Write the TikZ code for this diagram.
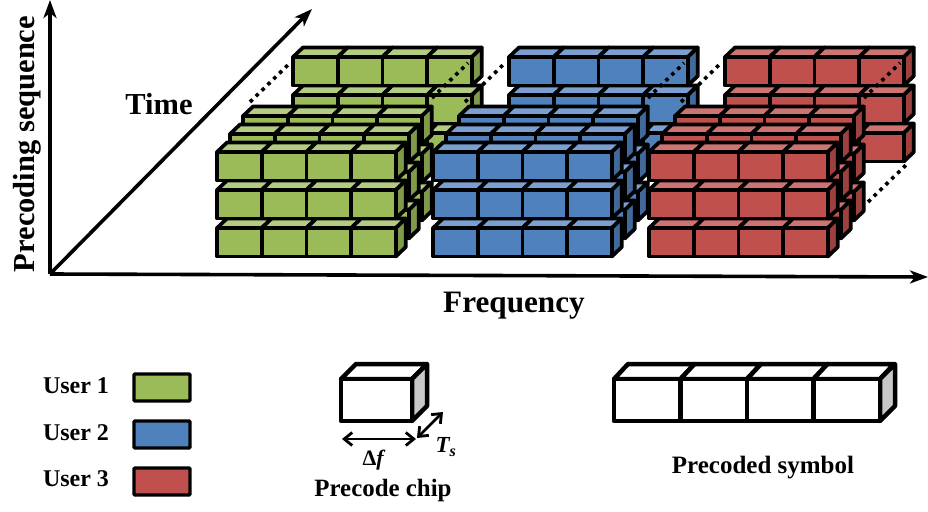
\documentclass[tikz,border=0pt]{standalone}
\usepackage{fontspec}
\setmainfont{Liberation Serif}
\usetikzlibrary{arrows.meta}
\definecolor{gf}{HTML}{9BBB59}\definecolor{gt}{HTML}{B3CC82}\definecolor{gs}{HTML}{7F9A48}
\definecolor{bf}{HTML}{4F81BD}\definecolor{bt}{HTML}{7A9FD0}\definecolor{bs}{HTML}{41699A}
\definecolor{rf}{HTML}{C0504D}\definecolor{rt}{HTML}{CD7371}\definecolor{rs}{HTML}{9D413F}
\definecolor{chipside}{HTML}{C8C8C8}
\tikzset{
  cubeline/.style={draw=black,line width=3.7pt,line join=round},
  chipline/.style={draw=black,line width=4.5pt,line join=round},
  axisline/.style={draw=black,line width=3.6pt,-{Stealth[length=18pt,width=13pt,inset=5pt]}},
  dimline/.style={draw=black,line width=2.8pt,{Straight Barb[length=8pt,width=13pt,line width=2.8pt]}-{Straight Barb[length=8pt,width=13pt,line width=2.8pt]}},
  dots/.style={draw=black,line width=3.6pt,dash pattern=on 3.6pt off 4.6pt},
  boldlabel/.style={font=\bfseries\fontsize{#1}{#1}\selectfont,inner sep=0pt},
  legendbox/.style={draw=black,line width=3.4pt,rounded corners=1pt},
}
% one bar of four chips: x, y of the front face top-left, then three colours
\newcommand{\chipbar}[5]{%
  \begin{scope}[shift={(#1,#2)}]
    \foreach \i in {0,1,2,3}{
      \path[cubeline,fill=#4] (44.7*\i,0) -- ++(10,-9.5) -- ++(44.7,0) -- ++(-10,9.5) -- cycle;
    }
    \path[cubeline,fill=#5] (178.8,0) -- ++(10,-9.5) -- ++(0,28.5) -- ++(-10,9.5) -- cycle;
    \foreach \i in {0,1,2,3}{
      \path[cubeline,fill=#3] (44.7*\i,0) rectangle ++(44.7,28.5);
    }
  \end{scope}}
% three stacked bars
\newcommand{\chipstack}[5]{%
  \chipbar{#1}{#2+76}{#3}{#4}{#5}
  \chipbar{#1}{#2+38}{#3}{#4}{#5}
  \chipbar{#1}{#2}{#3}{#4}{#5}}
\newcommand{\userblock}[4]{%
  \begin{scope}[shift={(#1,0)}]
    \chipstack{243}{116}{#2}{#3}{#4}
    \chipstack{230}{134}{#2}{#3}{#4}
    \chipstack{217}{152}{#2}{#3}{#4}
  \end{scope}}
\begin{document}
\begin{tikzpicture}[x=1pt,y=-1pt]
\useasboundingbox (0,0) rectangle (928,511);
% back layers
\chipstack{293}{57}{gf}{gt}{gs}
\chipstack{509}{57}{bf}{bt}{bs}
\chipstack{725}{57}{rf}{rt}{rs}
% dotted guide lines
\coordinate (d1a) at (250,102); \coordinate (d1b) at (291,62);
\coordinate (d2a) at (432,98);  \coordinate (d2b) at (468,63);
\coordinate (d3a) at (465,102); \coordinate (d3b) at (505,63);
\coordinate (d4a) at (648,98);  \coordinate (d4b) at (684,63);
\coordinate (d5a) at (681,102); \coordinate (d5b) at (721,63);
\coordinate (d6a) at (864,98);  \coordinate (d6b) at (900,63);
\coordinate (d7a) at (868,202); \coordinate (d7b) at (906,165);
\foreach \n in {1,...,7}{ \draw[dots] (d\n a) -- (d\n b); }
% front layers
\userblock{0}{gf}{gt}{gs}
\userblock{216}{bf}{bt}{bs}
\userblock{432}{rf}{rt}{rs}
% axes
\coordinate (org) at (50,274);
\coordinate (yend) at (50,0);
\coordinate (xend) at (928,277);
\coordinate (tend) at (312,9);
\draw[axisline] (org) -- (yend);
\draw[axisline] (org) -- (xend);
\draw[axisline] (org) -- (tend);
\node[boldlabel=30.5,rotate=90] (ylab) at (27,144) {Precoding sequence};
\node[boldlabel=30.5] (tlab) at (159,104) {Time};
\node[boldlabel=31.2] (flab) at (514,306) {Frequency};
% legend
\node[boldlabel=24] (u1) at (76,386) {User 1};
\node[boldlabel=24] (u2) at (76,433) {User 2};
\node[boldlabel=24] (u3) at (76,479) {User 3};
\node[legendbox,fill=gf,minimum width=56pt,minimum height=27pt] (k1) at (162,387.5) {};
\node[legendbox,fill=bf,minimum width=56pt,minimum height=27pt] (k2) at (162,434.5) {};
\node[legendbox,fill=rf,minimum width=56pt,minimum height=27pt] (k3) at (162,481.5) {};
% precode chip
\path[chipline,fill=white] (341,379) -- ++(15,-15) -- ++(71,0) -- ++(-15,15) -- cycle;
\path[chipline,fill=chipside] (412,379) -- ++(15,-15) -- ++(0,42) -- ++(-15,15) -- cycle;
\path[chipline,fill=white] (341,379) rectangle (412,421);
\coordinate (fa) at (342,439); \coordinate (fb) at (416,439);
\coordinate (ta) at (417,438); \coordinate (tb) at (443,412);
\draw[dimline] (fa) -- (fb);
\draw[dimline] (ta) -- (tb);
\node[boldlabel=22] (df) at (374,460) {Δ\textit{f}};
\node[font=\bfseries\itshape\fontsize{23}{23}\selectfont,inner sep=0pt] (ts) at (446,447) {T\textsubscript{s}};
\node[boldlabel=24.9] (pc) at (383,491) {Precode chip};
% precoded symbol
\foreach \i in {0,1,2,3}{
  \path[chipline,fill=white] (614+66.5*\i,379) -- ++(14,-15) -- ++(66.5,0) -- ++(-14,15) -- cycle;
}
\path[chipline,fill=chipside] (880,379) -- ++(15,-15) -- ++(0,42) -- ++(-15,15) -- cycle;
\foreach \i in {0,1,2,3}{
  \path[chipline,fill=white] (614+66.5*\i,379) rectangle ++(66.5,42);
}
\node[boldlabel=25] (ps) at (763,468) {Precoded symbol};
\end{tikzpicture}
\end{document}
